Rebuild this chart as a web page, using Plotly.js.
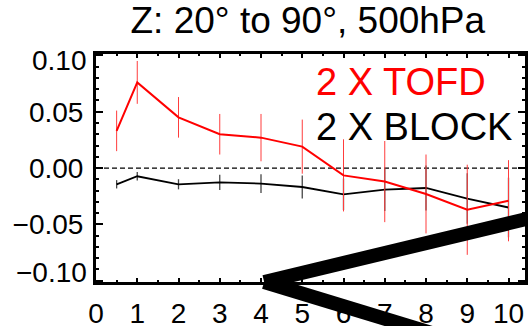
<!DOCTYPE html>
<html>
<head>
<meta charset="utf-8">
<script src="https://cdn.plot.ly/plotly-3.0.1.min.js"></script>
<style>html,body{margin:0;padding:0;background:#fff;}#chart{width:528px;height:326px;}</style>
</head>
<body>
<div id="chart"></div>
<script>
var xVals = [0.5, 1, 2, 3, 4, 5, 6, 7, 8, 9, 10];
var tofd = [0.033, 0.076, 0.045, 0.030, 0.027, 0.019, -0.0065, -0.012, -0.023, -0.037, -0.029];
var tofdErr = [0.018, 0.019, 0.018, 0.018, 0.021, 0.024, 0.032, 0.036, 0.035, 0.040, 0.036];
var block = [-0.0144, -0.0073, -0.0144, -0.0127, -0.0138, -0.0168, -0.0233, -0.0191, -0.0177, -0.0271, -0.035];
var blockErr = [0.0037, 0.0037, 0.0045, 0.0068, 0.0083, 0.0103, 0.014, 0.019, 0.020, 0.0224, 0.0265];
var seriesNames = ["2 X TOFD", "2 X BLOCK"];
var xTicks = [0, 1, 2, 3, 4, 5, 6, 7, 8, 9, 10];
var yTicks = [-0.10, -0.05, 0.00, 0.05, 0.10];
var yTickText = ["", "\u22120.05", "0.00", "0.05", ""];
// end labels of the y axis are drawn nudged inward (as in the original)
var yEndLabels = ["0.10", "\u22120.10"];
var yEndLabelPos = [0.0956, -0.0928];
var titleText = "Z: 20\u00b0 to 90\u00b0, 500hPa";

var FONT = "Liberation Sans, Arial, sans-serif";

var traces = [
  {
    x: xVals, y: block, type: "scatter", mode: "lines", name: seriesNames[1],
    line: {color: "black", width: 1.8},
    error_y: {type: "data", array: blockErr, visible: true, color: "rgb(70,70,70)", thickness: 1.3, width: 0}
  },
  {
    x: xVals, y: tofd, type: "scatter", mode: "lines", name: seriesNames[0],
    line: {color: "red", width: 2},
    error_y: {type: "data", array: tofdErr, visible: true, color: "rgb(255,60,60)", thickness: 1, width: 0}
  }
];

var annotations = [
  {text: seriesNames[0], xref: "paper", yref: "paper", x: 0.508, y: 0.8785,
   xanchor: "left", yanchor: "middle", showarrow: false,
   font: {family: FONT, size: 38, color: "red"}},
  {text: seriesNames[1], xref: "paper", yref: "paper", x: 0.508, y: 0.678,
   xanchor: "left", yanchor: "middle", showarrow: false,
   font: {family: FONT, size: 38, color: "black"}}
];
yEndLabels.forEach(function (t, i) {
  annotations.push({text: t, xref: "paper", yref: "y", x: -0.016, y: yEndLabelPos[i],
    xanchor: "right", yanchor: "middle", showarrow: false,
    font: {family: FONT, size: 28, color: "black"}});
});

var layout = {
  width: 528, height: 326,
  margin: {l: 96, r: 3, t: 54, b: 44, pad: 0},
  paper_bgcolor: "white", plot_bgcolor: "white",
  showlegend: false,
  font: {family: FONT, color: "black", size: 28},
  title: {
    text: titleText, font: {family: FONT, size: 37, color: "black"},
    xref: "container", x: 0.583, xanchor: "center",
    yref: "container", y: 0.94, yanchor: "middle"
  },
  xaxis: {
    range: [0, 10.40], showgrid: false, zeroline: false,
    showline: true, linecolor: "black", linewidth: 3, mirror: "ticks",
    ticks: "inside", ticklen: 4, tickwidth: 2, tickcolor: "black",
    tickvals: xTicks, ticktext: xTicks.map(String),
    tickfont: {family: FONT, size: 28, color: "black"},
    ticklabelstandoff: 4,
    minor: {dtick: 0.5, tick0: 0, ticks: "inside", ticklen: 2, tickwidth: 2, tickcolor: "black"}
  },
  yaxis: {
    range: [-0.1011, 0.1012], showgrid: false, zeroline: false,
    showline: true, linecolor: "black", linewidth: 3, mirror: "ticks",
    ticks: "inside", ticklen: 7, tickwidth: 2, tickcolor: "black",
    tickvals: yTicks, ticktext: yTickText,
    tickfont: {family: FONT, size: 28, color: "black"},
    ticklabelstandoff: 4,
    minor: {dtick: 0.01, tick0: 0, ticks: "inside", ticklen: 3, tickwidth: 2, tickcolor: "black"}
  },
  shapes: [
    {type: "line", xref: "paper", x0: 0, x1: 1, yref: "y", y0: 0, y1: 0,
     line: {color: "black", width: 1.2, dash: "5px,3px"}, layer: "below"},
    {type: "line", xref: "paper", yref: "paper", x0: 0.392, y0: 0.0, x1: 1.06, y1: 0.302,
     line: {color: "black", width: 14}, layer: "above"},
    {type: "line", xref: "paper", yref: "paper", x0: 0.392, y0: 0.0, x1: 1.09, y1: -0.40,
     line: {color: "black", width: 14}, layer: "above"}
  ],
  annotations: annotations
};

Plotly.newPlot("chart", traces, layout, {staticPlot: true, displayModeBar: false});
</script>
</body>
</html>
